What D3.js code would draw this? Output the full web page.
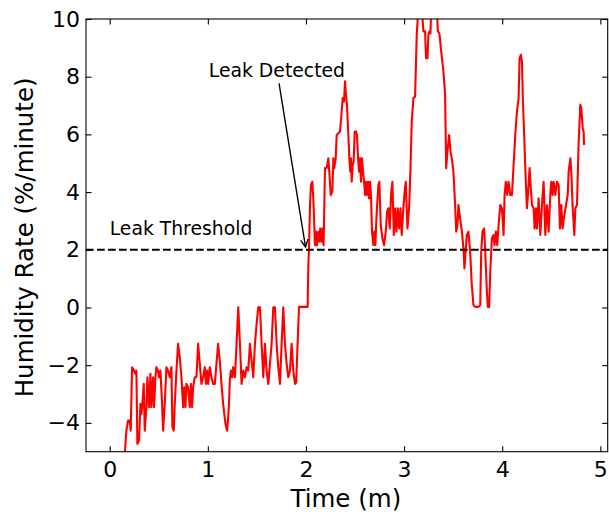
<!DOCTYPE html>
<html>
<head>
<meta charset="utf-8">
<script src="https://cdn.jsdelivr.net/npm/d3@7/dist/d3.min.js"></script>
<style>
  html, body { margin: 0; padding: 0; background: #fff; }
  svg text { font-family: "DejaVu Sans", sans-serif; fill: #000; }
</style>
</head>
<body>
<svg id="chart" width="609" height="517"></svg>
<script>
// Time since start of the run, in minutes
const timeMin = [
  0.000, 0.060, 0.120, 0.155, 0.170, 0.187, 0.204, 0.214, 0.228, 0.248,
  0.262, 0.272, 0.282, 0.299, 0.313, 0.323, 0.333, 0.347, 0.357, 0.374,
  0.384, 0.401, 0.415, 0.425, 0.442, 0.452, 0.466, 0.476, 0.493, 0.503,
  0.517, 0.534, 0.544, 0.561, 0.578, 0.595, 0.612, 0.629, 0.639, 0.653,
  0.663, 0.680, 0.697, 0.714, 0.731, 0.748, 0.759, 0.772, 0.782, 0.799,
  0.816, 0.827, 0.840, 0.850, 0.867, 0.884, 0.901, 0.918, 0.935, 0.952,
  0.969, 0.980, 0.993, 1.003, 1.020, 1.037, 1.054, 1.071, 1.088, 1.105,
  1.122, 1.139, 1.156, 1.180, 1.197, 1.214, 1.224, 1.235, 1.248, 1.258,
  1.276, 1.293, 1.310, 1.327, 1.344, 1.361, 1.378, 1.395, 1.412, 1.429,
  1.446, 1.463, 1.480, 1.497, 1.514, 1.531, 1.548, 1.565, 1.582, 1.599,
  1.616, 1.633, 1.650, 1.667, 1.684, 1.701, 1.718, 1.735, 1.752, 1.769,
  1.786, 1.803, 1.820, 1.837, 1.854, 1.871, 1.888, 1.900, 1.929, 2.017,
  2.024, 2.031, 2.041, 2.051, 2.065, 2.075, 2.092, 2.102, 2.112, 2.126,
  2.136, 2.146, 2.160, 2.170, 2.180, 2.187, 2.194, 2.211, 2.228, 2.238,
  2.252, 2.269, 2.279, 2.289, 2.303, 2.313, 2.330, 2.347, 2.364, 2.374,
  2.388, 2.398, 2.408, 2.418, 2.432, 2.442, 2.452, 2.459, 2.466, 2.476,
  2.486, 2.497, 2.510, 2.520, 2.531, 2.541, 2.551, 2.561, 2.571, 2.582,
  2.592, 2.602, 2.612, 2.622, 2.633, 2.643, 2.653, 2.663, 2.673, 2.687,
  2.697, 2.707, 2.721, 2.738, 2.748, 2.762, 2.779, 2.796, 2.813, 2.827,
  2.840, 2.854, 2.867, 2.881, 2.895, 2.908, 2.922, 2.935, 2.949, 2.963,
  2.976, 2.990, 3.003, 3.017, 3.034, 3.051, 3.065, 3.078, 3.095, 3.112,
  3.129, 3.146, 3.180, 3.197, 3.214, 3.224, 3.238, 3.248, 3.259, 3.269,
  3.276, 3.333, 3.344, 3.360, 3.378, 3.401, 3.418, 3.429, 3.442, 3.459,
  3.473, 3.486, 3.503, 3.520, 3.531, 3.544, 3.554, 3.571, 3.589, 3.605,
  3.615, 3.639, 3.656, 3.673, 3.690, 3.707, 3.724, 3.759, 3.776, 3.786,
  3.799, 3.816, 3.827, 3.844, 3.854, 3.867, 3.878, 3.895, 3.912, 3.922,
  3.935, 3.949, 3.963, 3.980, 3.997, 4.014, 4.024, 4.037, 4.051, 4.065,
  4.082, 4.099, 4.116, 4.133, 4.150, 4.167, 4.177, 4.190, 4.201, 4.211,
  4.224, 4.235, 4.252, 4.262, 4.279, 4.289, 4.303, 4.320, 4.330, 4.344,
  4.354, 4.371, 4.388, 4.405, 4.422, 4.439, 4.456, 4.473, 4.490, 4.500,
  4.514, 4.524, 4.541, 4.558, 4.575, 4.588, 4.602, 4.615, 4.633, 4.650,
  4.667, 4.677, 4.694, 4.704, 4.718, 4.735, 4.745, 4.762, 4.779, 4.796,
  4.806, 4.820, 4.830, 4.833
];

// Rate of change of relative humidity, in percent per minute
const humidityRate = [
  -7.20, -6.40, -5.80, -5.00, -4.27, -3.92, -3.92, -4.27, -2.07, -2.19,
  -2.30, -2.19, -4.73, -4.61, -3.34, -3.69, -3.34, -2.65, -4.27, -3.46,
  -2.42, -3.46, -2.30, -3.46, -2.42, -3.46, -2.42, -2.07, -2.19, -2.42,
  -2.19, -3.34, -4.27, -3.34, -2.07, -2.19, -2.42, -2.07, -4.15, -4.27,
  -3.34, -2.19, -1.26, -1.72, -2.42, -3.46, -2.77, -3.46, -2.65, -2.77,
  -3.46, -2.65, -3.46, -2.77, -2.42, -2.42, -1.26, -1.95, -2.65, -2.42,
  -2.07, -2.65, -2.19, -2.65, -2.07, -2.42, -2.65, -2.65, -1.95, -1.26,
  -1.84, -2.65, -3.34, -4.04, -4.27, -3.46, -2.53, -2.19, -2.42, -2.07,
  -2.42, -1.26, 0.01, -1.26, -2.65, -2.19, -2.42, -2.07, -2.19, -1.26,
  -1.84, -2.42, -1.26, -0.57, 0.01, 0.01, -1.26, -2.42, -1.26, -2.19,
  -2.65, -1.95, -1.26, 0.01, 0.01, -1.26, -2.07, -2.65, -1.26, 0.01,
  -1.26, -1.95, -2.42, -2.19, -1.26, -2.19, -2.65, -2.60, 0.02, 0.02,
  1.47, 2.05, 3.55, 4.25, 4.36, 3.78, 2.16, 2.63, 2.16, 2.63,
  2.28, 2.74, 2.28, 2.74, 2.16, 3.55, 4.83, 4.83, 5.17, 4.71,
  3.90, 4.02, 5.17, 4.83, 5.17, 5.98, 6.04, 6.10, 6.79, 7.26,
  7.14, 7.84, 7.37, 7.03, 5.98, 5.17, 4.71, 5.17, 4.36, 4.94,
  5.06, 6.10, 6.10, 5.98, 5.17, 4.71, 5.17, 4.36, 5.17, 4.71,
  4.36, 3.90, 4.36, 3.90, 4.36, 3.78, 4.36, 3.90, 2.63, 2.16,
  2.63, 2.16, 3.32, 4.25, 4.36, 2.86, 2.40, 2.16, 2.63, 3.32,
  3.44, 2.74, 3.90, 4.36, 2.51, 3.44, 2.63, 3.44, 2.74, 3.44,
  2.51, 3.32, 3.90, 4.36, 2.74, 3.44, 4.83, 6.45, 7.26, 7.31,
  9.46, 10.40, 10.40, 9.57, 9.57, 8.64, 8.64, 9.46, 9.57, 9.50,
  10.40, 10.40, 9.57, 9.50, 8.88, 8.18, 7.37, 4.83, 5.41, 5.98,
  5.41, 5.17, 4.71, 3.55, 2.63, 2.86, 3.55, 3.09, 2.63, 2.05,
  1.35, 2.51, 2.63, 1.93, 0.77, 0.08, 0.02, 0.02, 0.08, 1.93,
  2.63, 2.74, 1.93, 0.54, 0.02, 0.02, 1.24, 2.40, 2.51, 2.16,
  2.63, 2.16, 2.86, 3.55, 3.44, 2.51, 3.90, 4.36, 3.90, 4.36,
  3.90, 3.90, 4.94, 5.98, 6.79, 7.26, 8.64, 8.76, 8.53, 7.14,
  5.98, 4.83, 3.44, 3.90, 4.83, 4.25, 3.55, 3.44, 2.74, 3.44,
  2.74, 3.78, 2.51, 3.55, 4.36, 2.51, 3.55, 2.63, 3.90, 4.36,
  3.90, 4.36, 3.90, 4.36, 4.25, 2.74, 3.55, 2.74, 3.21, 3.55,
  3.90, 4.71, 5.17, 4.71, 3.44, 2.51, 3.44, 3.55, 5.75, 7.03,
  6.91, 6.21, 6.10, 5.63
];

const xTicks = [0, 1, 2, 3, 4, 5];
const yTicks = [-4, -2, 0, 2, 4, 6, 8, 10];
const xDomain = [-0.2416, 5.0749];
const yDomain = [-5, 10];
const leakThreshold = 2;
const leakDetectedAt = [2, 2];
const leakLabelAt = [1, 8];
const thresholdLabelAt = [0, 2.5];

const svg = d3.select("#chart");
const plot = { left: 86, right: 607.7, top: 19, bottom: 451.7 };

const x = d3.scaleLinear().domain(xDomain).range([plot.left, plot.right]);
const y = d3.scaleLinear().domain(yDomain).range([plot.bottom, plot.top]);

const tickFont = "22px";
const noteFont = "18.8px";
const titleFont = "24.5px";
const minus = v => String(v).replace("-", "\u2212");

svg.append("defs").append("clipPath").attr("id", "plot-clip")
  .append("rect")
  .attr("x", plot.left).attr("y", plot.top)
  .attr("width", plot.right - plot.left).attr("height", plot.bottom - plot.top);

// data series
const series = timeMin.map((t, i) => [t, humidityRate[i]]);
svg.append("path")
  .datum(series)
  .attr("clip-path", "url(#plot-clip)")
  .attr("fill", "none")
  .attr("stroke", "#ff0000")
  .attr("stroke-width", 2.1)
  .attr("stroke-linejoin", "round")
  .attr("d", d3.line().x(d => x(d[0])).y(d => y(d[1])));

// threshold line
svg.append("line")
  .attr("x1", plot.left).attr("x2", plot.right)
  .attr("y1", y(leakThreshold)).attr("y2", y(leakThreshold))
  .attr("stroke", "#000")
  .attr("stroke-width", 2.1)
  .attr("stroke-dasharray", "7.7,3.3");

// axes: inward ticks on all four sides, labels bottom and left
function styleAxis(g) {
  g.select(".domain").remove();
  g.selectAll(".tick line").attr("stroke", "#000").attr("stroke-width", 1.1);
  g.selectAll(".tick text")
    .attr("fill", "#000")
    .style("font-family", "'DejaVu Sans', sans-serif")
    .style("font-size", tickFont);
}

svg.append("g")
  .attr("transform", `translate(0,${plot.bottom})`)
  .call(d3.axisBottom(x).tickValues(xTicks).tickSize(-5.5).tickPadding(10).tickFormat(minus))
  .call(styleAxis);
svg.append("g")
  .attr("transform", `translate(0,${plot.top})`)
  .call(d3.axisTop(x).tickValues(xTicks).tickSize(-5.5).tickFormat(""))
  .call(styleAxis);
svg.append("g")
  .attr("transform", `translate(${plot.left},0)`)
  .call(d3.axisLeft(y).tickValues(yTicks).tickSize(-5.5).tickPadding(6).tickFormat(minus))
  .call(styleAxis);
svg.append("g")
  .attr("transform", `translate(${plot.right},0)`)
  .call(d3.axisRight(y).tickValues(yTicks).tickSize(-5.5).tickFormat(""))
  .call(styleAxis);

// frame
svg.append("rect")
  .attr("x", plot.left).attr("y", plot.top)
  .attr("width", plot.right - plot.left).attr("height", plot.bottom - plot.top)
  .attr("fill", "none").attr("stroke", "#000").attr("stroke-width", 1.1);

// axis titles
svg.append("text")
  .attr("x", (plot.left + plot.right) / 2 - 1).attr("y", 507)
  .attr("text-anchor", "middle")
  .style("font-size", titleFont)
  .text("Time (m)");
svg.append("text")
  .attr("transform", `translate(33,${(plot.top + plot.bottom) / 2 + 2}) rotate(-90)`)
  .attr("text-anchor", "middle")
  .style("font-size", titleFont)
  .text("Humidity Rate (%/minute)");

// threshold label
svg.append("text")
  .attr("x", x(thresholdLabelAt[0])).attr("y", y(thresholdLabelAt[1]))
  .style("font-size", noteFont)
  .text("Leak Threshold");

// detection annotation with arrow
const note = svg.append("text")
  .attr("x", x(leakLabelAt[0]) + 1).attr("y", y(leakLabelAt[1]))
  .style("font-size", noteFont)
  .text("Leak Detected");
const bb = note.node().getBBox();
const cx = bb.x + bb.width / 2, cy = bb.y + bb.height / 2;
const tx = x(leakDetectedAt[0]), ty = y(leakDetectedAt[1]);
const len = Math.hypot(tx - cx, ty - cy);
const ux = (tx - cx) / len, uy = (ty - cy) / len;
const sExit = (bb.y + bb.height - cy) / uy + 2.8;
const sx = cx + ux * sExit, sy = cy + uy * sExit;
const ex = tx - ux * 2.8, ey = ty - uy * 2.8;
const headLen = 7.4, headHalf = 3.7;
const px = -uy, py = ux;
const arrow = svg.append("g").attr("fill", "none").attr("stroke", "#000").attr("stroke-width", 1.4);
arrow.append("line").attr("x1", sx).attr("y1", sy).attr("x2", ex).attr("y2", ey);
arrow.append("path")
  .attr("stroke-linejoin", "miter")
  .attr("d", `M${ex - ux * headLen + px * headHalf},${ey - uy * headLen + py * headHalf}` +
             `L${ex},${ey}` +
             `L${ex - ux * headLen - px * headHalf},${ey - uy * headLen - py * headHalf}`);
</script>
</body>
</html>
